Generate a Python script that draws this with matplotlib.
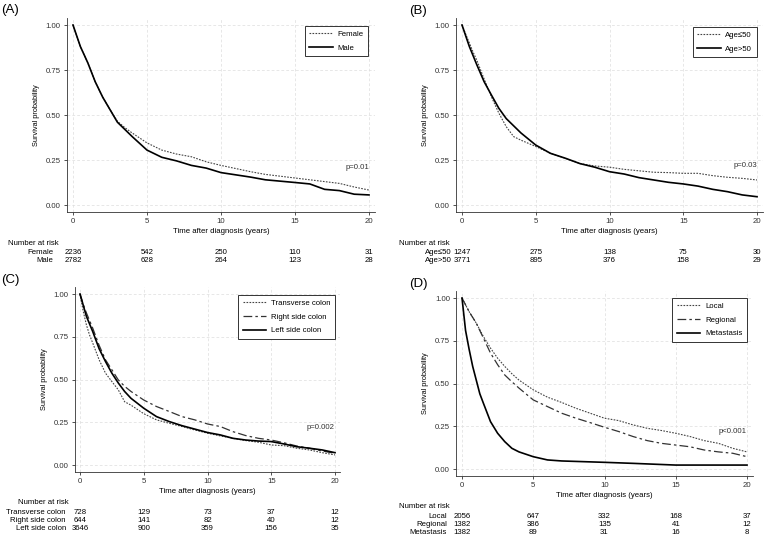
import numpy as np
import matplotlib
matplotlib.use("Agg")
import matplotlib.pyplot as plt
from matplotlib import transforms

plt.rcParams['font.family'] = ['Liberation Sans', 'DejaVu Sans']

# ---- data (years, survival probability) ----
t_a = [0, 0.25, 0.5, 0.75, 1, 1.5, 2, 2.5, 3, 3.5, 4, 5, 6, 7, 8, 9, 10, 12, 13, 15, 16, 17, 18, 19, 20]
female = [1, 0.94, 0.88, 0.835, 0.79, 0.685, 0.60, 0.53, 0.465, 0.43, 0.40, 0.345, 0.305, 0.283, 0.268,
          0.24, 0.22, 0.185, 0.17, 0.15, 0.14, 0.13, 0.12, 0.10, 0.083]
male = [1, 0.94, 0.88, 0.835, 0.79, 0.685, 0.60, 0.53, 0.46, 0.42, 0.38, 0.305, 0.265, 0.245, 0.22,
        0.205, 0.18, 0.155, 0.14, 0.125, 0.117, 0.087, 0.08, 0.06, 0.056]

t_b = [0, 0.25, 0.5, 0.75, 1, 1.5, 2, 2.5, 3, 3.5, 4, 5, 6, 7, 8, 9, 10, 11, 12, 13, 14, 15, 16, 17, 18,
       19, 20]
age_le50 = [1, 0.95, 0.90, 0.85, 0.805, 0.70, 0.60, 0.51, 0.435, 0.38, 0.36, 0.325, 0.287, 0.26, 0.23,
            0.217, 0.21, 0.198, 0.19, 0.182, 0.18, 0.176, 0.176, 0.163, 0.154, 0.148, 0.139]
age_gt50 = [1, 0.94, 0.88, 0.83, 0.78, 0.685, 0.61, 0.537, 0.48, 0.44, 0.40, 0.333, 0.287, 0.26, 0.23,
            0.21, 0.185, 0.172, 0.152, 0.139, 0.126, 0.117, 0.105, 0.087, 0.074, 0.056, 0.046]

t_c = [0, 0.25, 0.5, 0.75, 1, 1.5, 2, 2.5, 3, 3.5, 4, 5, 6, 7, 8, 9, 10, 11, 12, 13, 14, 15, 16, 17, 18,
       19, 20]
transverse = [1, 0.90, 0.82, 0.76, 0.713, 0.615, 0.537, 0.488, 0.44, 0.37, 0.35, 0.30, 0.264, 0.244,
              0.225, 0.205, 0.186, 0.17, 0.156, 0.143, 0.133, 0.117, 0.113, 0.098, 0.088, 0.072, 0.059]
right_side = [1, 0.94, 0.89, 0.845, 0.80, 0.70, 0.615, 0.557, 0.498, 0.46, 0.43, 0.38, 0.342, 0.313,
              0.283, 0.264, 0.24, 0.225, 0.195, 0.172, 0.156, 0.146, 0.13, 0.111, 0.098, 0.082, 0.068]
left_side = [1, 0.935, 0.87, 0.825, 0.78, 0.68, 0.605, 0.537, 0.48, 0.43, 0.39, 0.332, 0.283, 0.254,
             0.23, 0.21, 0.19, 0.176, 0.156, 0.146, 0.14, 0.137, 0.123, 0.107, 0.098, 0.088, 0.072]

t_d = [0, 0.25, 0.5, 1, 1.5, 2, 2.5, 3, 3.5, 4, 5, 6, 7, 8, 9, 10, 11, 12, 13, 14, 15, 16, 17, 18, 19, 20]
local = [1, 0.96, 0.92, 0.853, 0.775, 0.707, 0.648, 0.60, 0.557, 0.52, 0.463, 0.42, 0.389, 0.355, 0.326,
         0.297, 0.283, 0.258, 0.238, 0.225, 0.209, 0.19, 0.166, 0.15, 0.121, 0.10]
regional = [1, 0.96, 0.92, 0.853, 0.766, 0.678, 0.61, 0.55, 0.51, 0.473, 0.404, 0.365, 0.326, 0.297,
            0.271, 0.244, 0.219, 0.19, 0.166, 0.15, 0.14, 0.13, 0.111, 0.10, 0.092, 0.072]
t_met = [0, 0.25, 0.5, 0.75, 1, 1.25, 1.5, 2, 2.5, 3, 3.5, 4, 5, 6, 7, 10, 12, 15, 20]
metastasis = [1, 0.81, 0.70, 0.60, 0.52, 0.44, 0.385, 0.277, 0.209, 0.16, 0.121, 0.10, 0.072, 0.053,
              0.047, 0.039, 0.033, 0.023, 0.023]

risk_times = [0, 5, 10, 15, 20]
risk_a = {"Female": [2236, 542, 250, 110, 31], "Male": [2782, 628, 264, 123, 28]}
risk_b = {"Age\u226450": [1247, 275, 138, 75, 30], "Age>50": [3771, 895, 376, 158, 29]}
risk_c = {"Transverse colon": [728, 129, 73, 37, 12], "Right side colon": [644, 141, 82, 40, 12],
          "Left side colon": [3646, 900, 359, 156, 35]}
risk_d = {"Local": [2056, 647, 332, 168, 37], "Regional": [1382, 386, 135, 41, 12],
          "Metastasis": [1382, 89, 31, 16, 8]}

W, H = 767, 541
fig = plt.figure(figsize=(W / 100, H / 100), dpi=100)

DOT = dict(color="#444444", lw=0.8, ls=(0, (1.5, 1.2)))
DASH = dict(color="#333333", lw=0.9, ls=(0, (7, 2.5, 2, 2.5)))
SOLID = dict(color="black", lw=1.2, ls="-")
FS = 5.6


def make_ax(px0, px20, py1, py0):
    s = (px20 - px0) / 20.0
    sy = py0 - py1
    left = px0 - 0.4 * s
    width = 20.8 * s
    top = py1 - 0.04 * sy
    height = 1.08 * sy
    ax = fig.add_axes([left / W, 1 - (top + height) / H, width / W, height / H])
    ax.set_xlim(-0.4, 20.4)
    ax.set_ylim(-0.04, 1.04)
    ax.set_xticks([0, 5, 10, 15, 20])
    ax.set_yticks([0, 0.25, 0.5, 0.75, 1.0])
    ax.set_yticklabels(["0.00", "0.25", "0.50", "0.75", "1.00"])
    ax.tick_params(labelsize=FS, length=2.5, width=0.6, pad=2, colors="#333333")
    ax.grid(True, color="#dddddd", ls=(0, (4, 3)), lw=0.5)
    for sp in ["top", "right"]:
        ax.spines[sp].set_visible(False)
    for sp in ["left", "bottom"]:
        ax.spines[sp].set_color("#333333")
        ax.spines[sp].set_linewidth(0.6)
    ax.set_ylabel("Survival probability", fontsize=5.3, labelpad=4)
    ax.set_xlabel("Time after diagnosis (years)", fontsize=5.6, labelpad=2)
    return ax


def risk_table(ax, rows, lab_x, head_x, head_y, row_y0, dy):
    tr = transforms.blended_transform_factory(ax.transData, fig.transFigure)
    fig.text(head_x / W, 1 - head_y / H, "Number at risk", fontsize=FS, va="center")
    for i, (name, vals) in enumerate(rows.items()):
        y = 1 - (row_y0 + i * dy) / H
        fig.text(lab_x / W, y, name, fontsize=FS, va="center", ha="right")
        for t, v in zip(risk_times, vals):
            ax.text(t, y, str(v), transform=tr, fontsize=FS, va="center", ha="center")


def legend(ax, x1, y1):
    leg = ax.legend(loc="upper right", bbox_to_anchor=(x1 / W, 1 - y1 / H), bbox_transform=fig.transFigure,
                    fontsize=5.6, frameon=True, fancybox=False, edgecolor="#333333", framealpha=1,
                    borderaxespad=0, handlelength=3.0, handletextpad=0.6, borderpad=0.6, labelspacing=0.8)
    leg.get_frame().set_linewidth(0.7)


# (A)
ax = make_ax(73, 369, 25, 205)
ax.plot(t_a, female, label="Female", **DOT)
ax.plot(t_a, male, label="Male", **SOLID)
ax.text(20, 0.21, "p=0.01", fontsize=FS, ha="right", va="center", color="#333333")
legend(ax, 368, 26)
risk_table(ax, risk_a, 53, 8, 244, 252, 8)
fig.text(1 / W, 1 - 10 / H, "(A)", fontsize=9.5, va="center")

# (B)
ax = make_ax(462, 757, 25, 205)
ax.plot(t_b, age_le50, label="Age\u226450", **DOT)
ax.plot(t_b, age_gt50, label="Age>50", **SOLID)
ax.text(20, 0.22, "p=0.03", fontsize=FS, ha="right", va="center", color="#333333")
legend(ax, 757, 27)
risk_table(ax, risk_b, 452, 399, 244, 252, 8)
fig.text(409 / W, 1 - 11 / H, "(B)", fontsize=9.5, va="center")

# (C)
ax = make_ax(80, 335, 294, 465)
ax.plot(t_c, transverse, label="Transverse colon", **DOT)
ax.plot(t_c, right_side, label="Right side colon", **DASH)
ax.plot(t_c, left_side, label="Left side colon", **SOLID)
ax.text(20, 0.22, "p=0.002", fontsize=FS, ha="right", va="center", color="#333333")
legend(ax, 335, 295)
risk_table(ax, risk_c, 66, 18, 502, 512, 8.5)
fig.text(1 / W, 1 - 280 / H, "(C)", fontsize=9.5, va="center")

# (D)
ax = make_ax(462, 747, 298, 469)
ax.plot(t_d, local, label="Local", **DOT)
ax.plot(t_d, regional, label="Regional", **DASH)
ax.plot(t_met, metastasis, label="Metastasis", **SOLID)
ax.text(20, 0.22, "p<0.001", fontsize=FS, ha="right", va="center", color="#333333")
legend(ax, 747, 298)
risk_table(ax, risk_d, 447, 399, 507, 516, 8.5)
fig.text(409 / W, 1 - 284 / H, "(D)", fontsize=9.5, va="center")

fig.savefig("out.png", dpi=100)
